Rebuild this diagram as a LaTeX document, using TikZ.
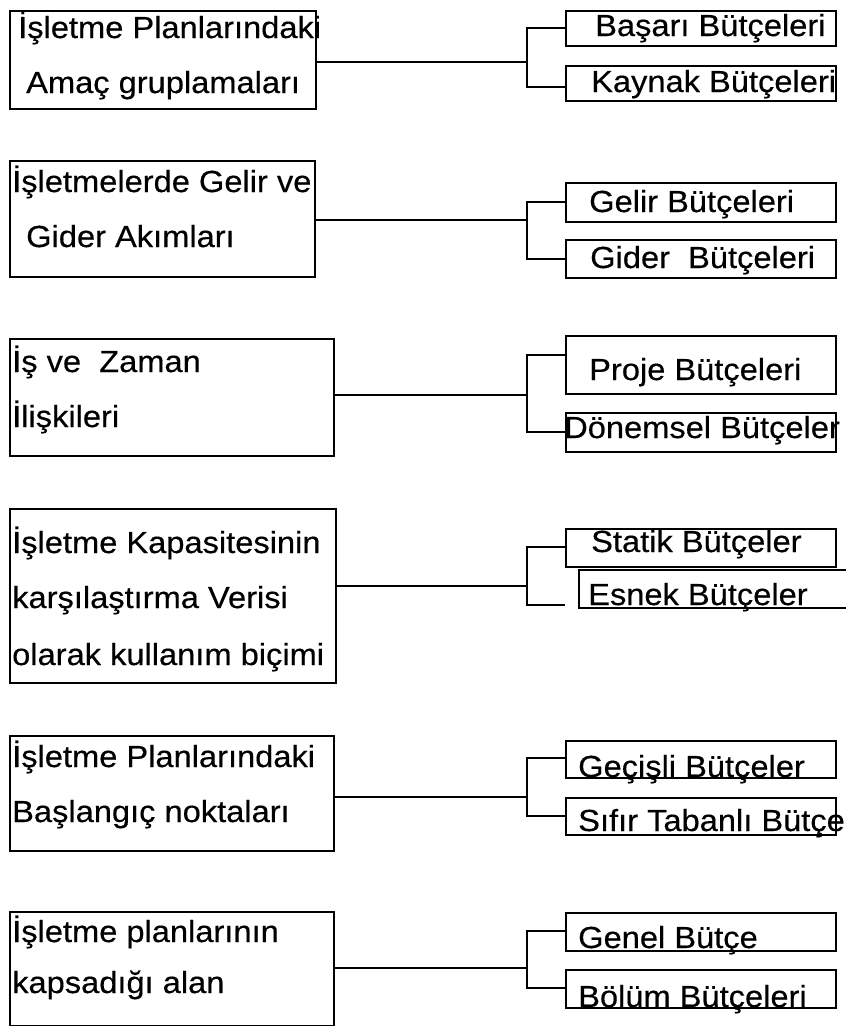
\documentclass[tikz,border=0pt]{standalone}
\usepackage{fontspec}
\setmainfont{Liberation Sans}[FakeStretch=1.07,FakeBold=0.4]
\tikzset{
  bx/.style={draw, line width=1.7pt, inner sep=0pt, anchor=north west},
  tx/.style={anchor=base west, inner sep=0pt, font=\fontsize{30.5}{36}\selectfont},
  ln/.style={line width=1.7pt}
}
\newcommand\mkbox[5]{\node[bx, minimum width={#4-#2}, minimum height={#5-#3}] (#1) at (#2,#3) {};}
\begin{document}
\begin{tikzpicture}[x=1pt,y=-1pt]
\useasboundingbox (0,0) rectangle (846,1026);
% left boxes
\mkbox{L1}{9}{10}{315}{108}
\node[tx] (L1a) at (18,38) {İşletme Planlarındaki};
\node[tx] (L1b) at (26,93) {Amaç gruplamaları};
\mkbox{L2}{9}{160}{314}{276}
\node[tx] (L2a) at (12,192) {İşletmelerde Gelir ve};
\node[tx] (L2b) at (26,247) {Gider Akımları};
\mkbox{L3}{9}{338}{333}{455}
\node[tx] (L3a) at (12,372) {İş ve \ Zaman};
\node[tx] (L3b) at (12,427) {İlişkileri};
\mkbox{L4}{9}{508}{335}{682}
\node[tx] (L4a) at (12,553) {İşletme Kapasitesinin};
\node[tx] (L4b) at (12,608) {karşılaştırma Verisi};
\node[tx] (L4c) at (12,665) {olarak kullanım biçimi};
\mkbox{L5}{9}{735}{333}{850}
\node[tx] (L5a) at (12,767) {İşletme Planlarındaki};
\node[tx] (L5b) at (12,822) {Başlangıç noktaları};
\mkbox{L6}{9}{911}{333}{1025}
\node[tx] (L6a) at (12,942) {İşletme planlarının};
\node[tx] (L6b) at (12,993) {kapsadığı alan};
% right boxes
\mkbox{R1a}{565}{10}{835}{45}
\node[tx] (R1at) at (595,36) {Başarı Bütçeleri};
\mkbox{R1b}{565}{65}{835}{100}
\node[tx] (R1bt) at (591,92) {Kaynak Bütçeleri};
\mkbox{R2a}{565}{182}{835}{221}
\node[tx] (R2at) at (589,212) {Gelir Bütçeleri};
\mkbox{R2b}{565}{239}{835}{277}
\node[tx] (R2bt) at (590,268) {Gider \ Bütçeleri};
\mkbox{R3a}{565}{335}{835}{393}
\node[tx] (R3at) at (589,380) {Proje Bütçeleri};
\mkbox{R3b}{565}{412}{835}{451}
\node[tx] (R3bt) at (564,438) {Dönemsel Bütçeler};
\mkbox{R4a}{565}{528}{835}{566}
\node[tx] (R4at) at (591,552) {Statik Bütçeler};
\mkbox{R4b}{578}{569}{870}{607}
\node[tx] (R4bt) at (588,605) {Esnek Bütçeler};
\mkbox{R5a}{565}{740}{835}{777}
\node[tx] (R5at) at (578,777) {Geçişli Bütçeler};
\mkbox{R5b}{565}{797}{835}{834}
\node[tx] (R5bt) at (578,831) {Sıfır Tabanlı Bütçe};
\mkbox{R6a}{565}{912}{835}{950}
\node[tx] (R6at) at (578,948) {Genel Bütçe};
\mkbox{R6b}{565}{969}{835}{1007}
\node[tx] (R6bt) at (578,1007) {Bölüm Bütçeleri};
% junctions
\coordinate (j1) at (527,62);
\coordinate (j2) at (527,220);
\coordinate (j3) at (527,395);
\coordinate (j4) at (527,586);
\coordinate (j5) at (527,797);
\coordinate (j6) at (527,968);
\coordinate (e4) at (565,605);
% connectors
\draw[ln] (L1.east |- j1) -- (j1);
\draw[ln] (R1a.west |- 0,28) -| (j1) |- (R1b.west |- 0,87);
\draw[ln] (L2.east |- j2) -- (j2);
\draw[ln] (R2a.west |- 0,202) -| (j2) |- (R2b.west |- 0,259);
\draw[ln] (L3.east |- j3) -- (j3);
\draw[ln] (R3a.west |- 0,355) -| (j3) |- (R3b.west |- 0,432);
\draw[ln] (L4.east |- j4) -- (j4);
\draw[ln] (R4a.west |- 0,547) -| (j4) |- (e4);
\draw[ln] (L5.east |- j5) -- (j5);
\draw[ln] (R5a.west |- 0,758) -| (j5) |- (R5b.west |- 0,816);
\draw[ln] (L6.east |- j6) -- (j6);
\draw[ln] (R6a.west |- 0,931) -| (j6) |- (R6b.west |- 0,988);
\end{tikzpicture}
\end{document}
